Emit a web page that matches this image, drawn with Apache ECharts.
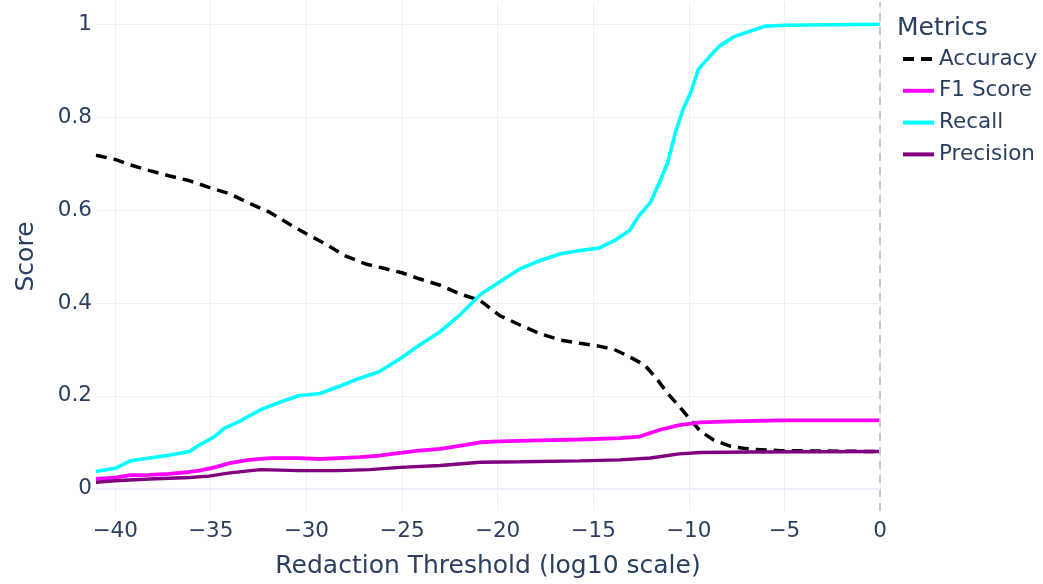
<!DOCTYPE html>
<html>
<head>
<meta charset="utf-8">
<script src="https://cdn.jsdelivr.net/npm/echarts@6/dist/echarts.min.js"></script>
<style>
  html, body { margin: 0; padding: 0; background: #fff; }
  #chart { width: 1043px; height: 584px; }
</style>
</head>
<body>
<div id="chart"></div>
<script>
// values
const accuracyX = [-41, -40, -39.2, -38.2, -37.2, -36.1, -35.1, -34, -33, -31.9, -30.9, -30, -29, -28, -26.9, -25.9, -25, -24.1, -23, -22, -20.9, -19.9, -18.8, -17.8, -16.7, -15.7, -14.7, -13.9, -13.1, -12.3, -11.7, -11.1, -10.5, -9.9, -9.4, -8.7, -7.8, -6.8, -5.2, 0];
const accuracyY = [0.718, 0.709, 0.697, 0.685, 0.674, 0.663, 0.649, 0.635, 0.615, 0.595, 0.570, 0.549, 0.527, 0.502, 0.484, 0.474, 0.465, 0.452, 0.438, 0.420, 0.405, 0.373, 0.352, 0.334, 0.320, 0.313, 0.307, 0.300, 0.284, 0.266, 0.238, 0.205, 0.177, 0.148, 0.124, 0.105, 0.091, 0.085, 0.082, 0.080];

const f1X = [-41, -40, -39.2, -38.2, -37.2, -36.1, -35.6, -34.8, -34, -33, -31.9, -30.4, -29.3, -28.3, -27.2, -26.2, -25.1, -24.1, -23, -22, -20.9, -19.9, -17.8, -15.7, -13.6, -12.6, -11.5, -10.5, -9.4, -7.8, -5.2, 0];
const f1Y = [0.021, 0.024, 0.029, 0.030, 0.032, 0.036, 0.039, 0.046, 0.055, 0.062, 0.066, 0.066, 0.064, 0.066, 0.068, 0.071, 0.077, 0.082, 0.086, 0.092, 0.100, 0.102, 0.104, 0.106, 0.109, 0.112, 0.127, 0.137, 0.143, 0.145, 0.147, 0.147];

const recallX = [-41, -40, -39.2, -38.2, -37.2, -36.1, -35.6, -34.8, -34.3, -33.5, -32.4, -31.4, -30.4, -29.3, -28.3, -27.2, -26.2, -25.1, -24.1, -23, -22, -20.9, -19.9, -18.8, -17.8, -16.7, -15.7, -14.7, -13.9, -13.1, -12.6, -12, -11.5, -11.1, -10.7, -10.3, -9.9, -9.5, -8.9, -8.4, -7.6, -6.8, -6, -5, 0];
const recallY = [0.037, 0.044, 0.060, 0.066, 0.072, 0.080, 0.094, 0.112, 0.130, 0.145, 0.170, 0.186, 0.200, 0.205, 0.220, 0.238, 0.252, 0.280, 0.309, 0.338, 0.373, 0.418, 0.445, 0.474, 0.491, 0.506, 0.513, 0.518, 0.534, 0.556, 0.588, 0.617, 0.663, 0.703, 0.767, 0.817, 0.853, 0.903, 0.931, 0.953, 0.974, 0.985, 0.996, 0.998, 1.0];

const precisionX = [-41, -40, -38.2, -36.1, -35.1, -34, -32.4, -30.4, -28.3, -26.7, -25.1, -23, -20.9, -18.8, -15.7, -13.6, -12, -10.5, -9.4, -6.8, 0];
const precisionY = [0.014, 0.017, 0.021, 0.024, 0.027, 0.034, 0.041, 0.039, 0.039, 0.041, 0.046, 0.050, 0.057, 0.058, 0.060, 0.062, 0.066, 0.075, 0.078, 0.079, 0.080];

const seriesNames = ['Accuracy', 'F1 Score', 'Recall', 'Precision'];

function pairs(xs, ys) {
    return xs.map((x, i) => [x, ys[i]]);
}

const chart = echarts.init(document.getElementById('chart'));
const font = 'DejaVu Sans';
const textColor = '#2a3f5f';
const gridColor = '#EBF0F8';

const option = {
    animation: false,
    backgroundColor: '#fff',
    textStyle: { fontFamily: font },
    title: {
        text: 'Metrics',
        left: 897,
        top: 16,
        padding: 0,
        textStyle: { fontFamily: font, fontSize: 25, fontWeight: 'normal', color: textColor }
    },
    legend: {
        data: seriesNames,
        orient: 'vertical',
        left: 901,
        top: 48,
        padding: 0,
        itemWidth: 31,
        itemHeight: 20,
        itemGap: 9.8,
        selectedMode: false,
        itemStyle: { opacity: 0 },
        lineStyle: { width: 4 },
        textStyle: { fontFamily: font, fontSize: 21.5, color: textColor, padding: [0, 0, 0, 0] }
    },
    grid: { left: 96, right: 163, top: 2, bottom: 71, containLabel: false },
    xAxis: {
        type: 'value',
        min: -41,
        max: 0,
        splitNumber: 8,
        name: 'Redaction Threshold (log10 scale)',
        nameLocation: 'middle',
        nameGap: 43,
        nameTextStyle: { fontFamily: font, fontSize: 25, color: textColor },
        axisLine: { show: false },
        axisTick: { show: false },
        axisLabel: {
            fontFamily: font,
            fontSize: 21.5,
            color: textColor,
            margin: 9,
            showMinLabel: false,
            formatter: v => String(v).replace('-', '\u2212')
        },
        splitLine: { show: true, showMinLine: false, lineStyle: { color: gridColor, width: 1 } }
    },
    yAxis: {
        type: 'value',
        min: -0.048,
        max: 1.048,
        splitNumber: 5,
        name: 'Score',
        nameLocation: 'middle',
        nameGap: 57,
        nameTextStyle: { fontFamily: font, fontSize: 25, color: textColor },
        axisLine: { show: false },
        axisTick: { show: false },
        axisLabel: {
            fontFamily: font,
            fontSize: 21.5,
            color: textColor,
            margin: 4,
            showMinLabel: false,
            showMaxLabel: false,
            formatter: v => String(Math.round(v * 10) / 10)
        },
        splitLine: { show: true, showMinLine: false, showMaxLine: false, lineStyle: { color: gridColor, width: 1 } }
    },
    series: [
        {
            name: 'Accuracy',
            type: 'line',
            data: pairs(accuracyX, accuracyY),
            showSymbol: false,
            symbol: 'none',
            color: '#000000',
            lineStyle: { color: '#000000', width: 3.5, type: [11, 7] },
            markLine: {
                silent: true,
                symbol: 'none',
                label: { show: false },
                lineStyle: { color: '#c8c8c8', width: 2, type: [8, 6] },
                data: [{ xAxis: 0 }]
            }
        },
        {
            name: 'F1 Score',
            type: 'line',
            data: pairs(f1X, f1Y),
            showSymbol: false,
            symbol: 'none',
            color: '#ff00ff',
            lineStyle: { color: '#ff00ff', width: 3.8 }
        },
        {
            name: 'Recall',
            type: 'line',
            data: pairs(recallX, recallY),
            showSymbol: false,
            symbol: 'none',
            color: '#00ffff',
            lineStyle: { color: '#00ffff', width: 3.6 }
        },
        {
            name: 'Precision',
            type: 'line',
            data: pairs(precisionX, precisionY),
            showSymbol: false,
            symbol: 'none',
            color: '#800080',
            lineStyle: { color: '#800080', width: 3.4 },
            markLine: {
                silent: true,
                symbol: 'none',
                label: { show: false },
                lineStyle: { color: gridColor, width: 2, type: 'solid' },
                data: [{ yAxis: 0 }]
            }
        }
    ]
};
chart.setOption(option);
</script>
</body>
</html>
